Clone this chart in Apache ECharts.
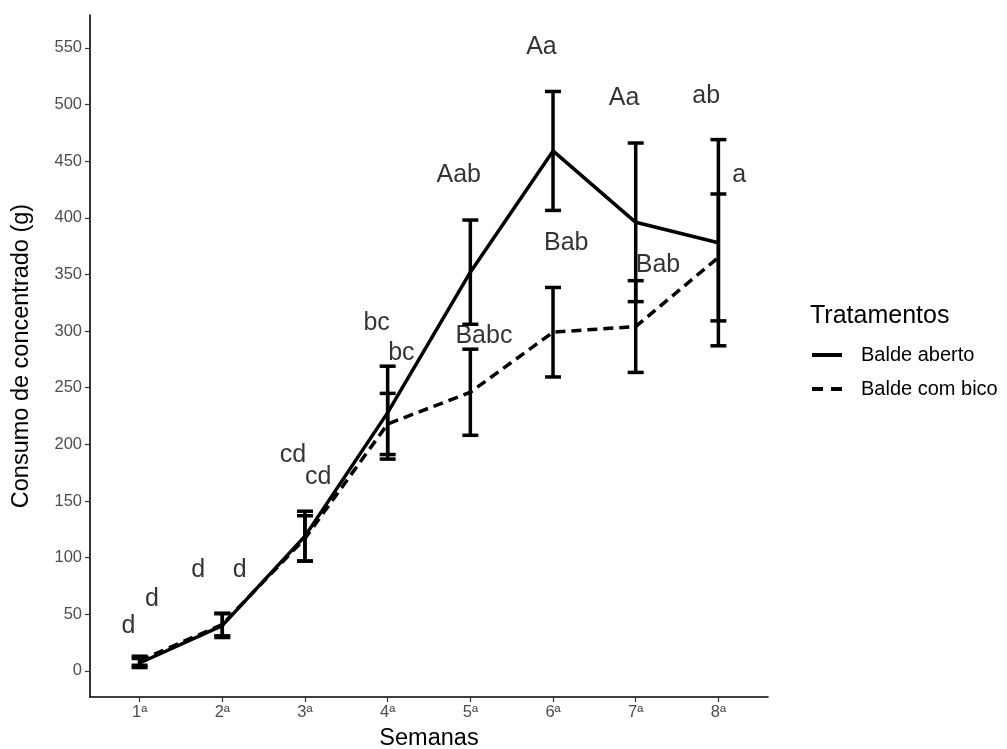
<!DOCTYPE html>
<html>
<head>
<meta charset="utf-8">
<script src="https://cdn.jsdelivr.net/npm/echarts@6/dist/echarts.min.js"></script>
<style>
html,body{margin:0;padding:0;background:#fff;}
#chart{width:1007px;height:749px;}
</style>
</head>
<body>
<div id="chart"></div>
<script>
// ---- data ----
const weeks = ['1ª','2ª','3ª','4ª','5ª','6ª','7ª','8ª'];
const yTicks = [0,50,100,150,200,250,300,350,400,450,500,550];
const seriesNames = ['Balde aberto','Balde com bico'];
const abertoMean = [7, 40, 119, 228, 352, 459, 396, 378];
const abertoErr  = [4, 10.5, 22, 41, 46, 52.5, 70, 91];
const bicoMean   = [9, 41, 117, 218, 246, 299, 304, 365];
const bicoErr    = [4, 10, 20, 27, 38, 39.5, 40.5, 56];
const labelText = ['d','d','d','d','cd','cd','bc','bc','Aab','Babc','Aa','Bab','Aa','Bab','ab','a'];
const labelX    = [0.864,1.15,1.71,2.21,2.855,3.16,3.866,4.166,4.86,5.164,5.86,6.16,6.86,7.27,7.853,8.253];
const labelY    = [39.7,63.6,89,89,190.7,170.8,307,280.5,437.9,295.8,550.3,377.6,505.6,358.4,507.6,437.9];

const FONT = 'Liberation Sans, Arial, sans-serif';
const chart = echarts.init(document.getElementById('chart'), null, {renderer:'canvas'});

function meanData(means){ return means.map((v,i)=>[i+1, v]); }
function errData(means, errs){ return means.map((v,i)=>[i+1, v-errs[i], v+errs[i]]); }

function errRender(params, api){
  const x = api.value(0);
  const lo = api.coord([x, api.value(1)]);
  const hi = api.coord([x, api.value(2)]);
  const hw = 8;
  const style = {stroke:'#000', lineWidth:3.5};
  return {type:'group', children:[
    {type:'line', shape:{x1:lo[0], y1:lo[1], x2:hi[0], y2:hi[1]}, style},
    {type:'line', shape:{x1:lo[0]-hw, y1:lo[1], x2:lo[0]+hw, y2:lo[1]}, style},
    {type:'line', shape:{x1:hi[0]-hw, y1:hi[1], x2:hi[0]+hw, y2:hi[1]}, style}
  ]};
}

const option = {
  animation:false,
  backgroundColor:'#fff',
  textStyle:{fontFamily:FONT},
  grid:{left:90, right:239, top:15, bottom:52, containLabel:false, outerBoundsMode:'none'},
  title:{text:'Tratamentos', left:805, top:299,
    textStyle:{fontFamily:FONT, fontSize:25, fontWeight:'normal', color:'#000'}},
  legend:{
    orient:'vertical', left:810, top:345, padding:0, itemWidth:30, itemHeight:14, itemGap:14,
    data:[{name:seriesNames[0]}, {name:seriesNames[1], lineStyle:{type:[11,8]}}],
    itemStyle:{opacity:0},
    lineStyle:{width:4},
    textStyle:{fontFamily:FONT, fontSize:20, color:'#000', padding:[0,0,0,14]},
    selectedMode:false
  },
  xAxis:{
    type:'value', min:0.4, max:8.6,
    name:'Semanas', nameLocation:'middle', nameGap:30,
    nameTextStyle:{fontFamily:FONT, fontSize:23.5, color:'#000'},
    axisLine:{show:true, onZero:false, lineStyle:{color:'#000', width:1.6}},
    axisTick:{show:true, length:5, customValues:[1,2,3,4,5,6,7,8], lineStyle:{color:'#333', width:1.2}},
    axisLabel:{customValues:[1,2,3,4,5,6,7,8], margin:7, fontFamily:FONT, fontSize:16.5, color:'#4d4d4d',
      formatter:v=>weeks[Math.round(v)-1]},
    splitLine:{show:false}
  },
  yAxis:{
    type:'value', min:-23, max:579,
    name:'Consumo de concentrado (g)', nameLocation:'middle', nameGap:56,
    nameTextStyle:{fontFamily:FONT, fontSize:23.5, color:'#000'},
    axisLine:{show:true, onZero:false, lineStyle:{color:'#000', width:1.6}},
    axisTick:{show:true, length:5, customValues:yTicks, lineStyle:{color:'#333', width:1.2}},
    axisLabel:{customValues:yTicks, margin:8, fontFamily:FONT, fontSize:16.5, color:'#4d4d4d'},
    splitLine:{show:false}
  },
  series:[
    {name:seriesNames[0], type:'line', data:meanData(abertoMean), symbol:'none',
      lineStyle:{color:'#000', width:3.5, type:'solid'}, itemStyle:{color:'#000'}, z:3},
    {name:seriesNames[1], type:'line', data:meanData(bicoMean), symbol:'none',
      lineStyle:{color:'#000', width:3.5, type:[10,6]}, itemStyle:{color:'#000'}, z:3},
    {name:'err1', type:'custom', renderItem:errRender, data:errData(abertoMean, abertoErr), z:4},
    {name:'err2', type:'custom', renderItem:errRender, data:errData(bicoMean, bicoErr), z:4},
    {name:'labels', type:'scatter', symbolSize:0, silent:true, z:5,
      data:labelText.map((t,i)=>({name:t, value:[labelX[i], labelY[i]]})),
      label:{show:true, position:'inside', formatter:'{b}', fontFamily:FONT, fontSize:25, color:'#000', textBorderWidth:0}}
  ]
};
chart.setOption(option);
</script>
</body>
</html>
